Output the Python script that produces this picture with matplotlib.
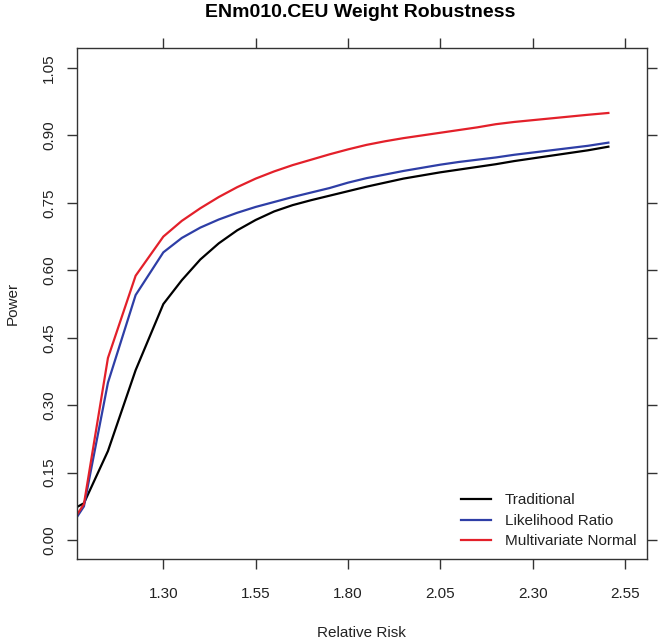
import matplotlib
matplotlib.use("Agg")
import matplotlib.pyplot as plt

relative_risk = [1.065, 1.085, 1.15, 1.225, 1.30, 1.35, 1.40, 1.45, 1.50, 1.55, 1.60,
                 1.65, 1.70, 1.75, 1.80, 1.85, 1.90, 1.95, 2.00, 2.05, 2.10, 2.15,
                 2.20, 2.25, 2.30, 2.35, 2.40, 2.45, 2.505]
traditional = [0.073, 0.082, 0.198, 0.378, 0.525, 0.578, 0.624, 0.660, 0.689, 0.712, 0.731,
               0.745, 0.756, 0.766, 0.776, 0.786, 0.795, 0.804, 0.811, 0.818, 0.824, 0.830,
               0.836, 0.843, 0.849, 0.855, 0.861, 0.867, 0.875]
likelihood_ratio = [0.050, 0.075, 0.350, 0.545, 0.640, 0.672, 0.695, 0.713, 0.728, 0.741, 0.752,
                    0.763, 0.773, 0.783, 0.795, 0.805, 0.813, 0.821, 0.828, 0.835, 0.841, 0.846,
                    0.851, 0.857, 0.862, 0.867, 0.872, 0.877, 0.884]
multivariate_normal = [0.055, 0.080, 0.405, 0.588, 0.675, 0.710, 0.738, 0.763, 0.785, 0.804, 0.820,
                       0.834, 0.846, 0.858, 0.869, 0.879, 0.887, 0.894, 0.900, 0.906, 0.912, 0.918,
                       0.925, 0.930, 0.934, 0.938, 0.942, 0.946, 0.950]

x_ticks = [1.30, 1.55, 1.80, 2.05, 2.30, 2.55]
y_ticks = [0.00, 0.15, 0.30, 0.45, 0.60, 0.75, 0.90, 1.05]
series_names = ["Traditional", "Likelihood Ratio", "Multivariate Normal"]
series_colors = ["black", "#2e3ea6", "#e3202a"]

plt.rcParams['font.family'] = ['Liberation Sans', 'DejaVu Sans']

fig = plt.figure(figsize=(6.58, 6.40), dpi=100)
ax = fig.add_axes([0.1166, 0.1266, 0.8667, 0.7984])

for ys, name, col in zip([traditional, likelihood_ratio, multivariate_normal],
                         series_names, series_colors):
    ax.plot(relative_risk, ys, color=col, lw=1.6, label=name)

ax.set_xlim(1.0655, 2.6096)
ax.set_ylim(-0.042, 1.0945)
ax.set_xticks(x_ticks)
ax.set_xticklabels([f"{v:.2f}" for v in x_ticks])
ax.set_yticks(y_ticks)
ax.set_yticklabels([f"{v:.2f}" for v in y_ticks], rotation=90, va='center')

ax.tick_params(axis='both', which='both', direction='out', length=7, width=1,
               color='#333333', labelsize=11, labelcolor='#222222',
               top=True, right=True, labeltop=False, labelright=False)
ax.tick_params(axis='x', pad=13)
ax.tick_params(axis='y', pad=8)

for sp in ax.spines.values():
    sp.set_color('#333333')
    sp.set_linewidth(1.0)

ax.set_xlabel("Relative Risk", fontsize=11, color='#222222', labelpad=18)
ax.set_ylabel("Power", fontsize=11, color='#222222', labelpad=16)
fig.suptitle("ENm010.CEU Weight Robustness", fontsize=14, fontweight='bold',
             x=0.548, y=0.993, va='top')

leg = ax.legend(loc='lower right', frameon=False, fontsize=11, handlelength=2.0,
                handletextpad=0.9, labelspacing=0.42, borderaxespad=0.3)
for t in leg.get_texts():
    t.set_color('#222222')

fig.savefig("out.png", dpi=100)
